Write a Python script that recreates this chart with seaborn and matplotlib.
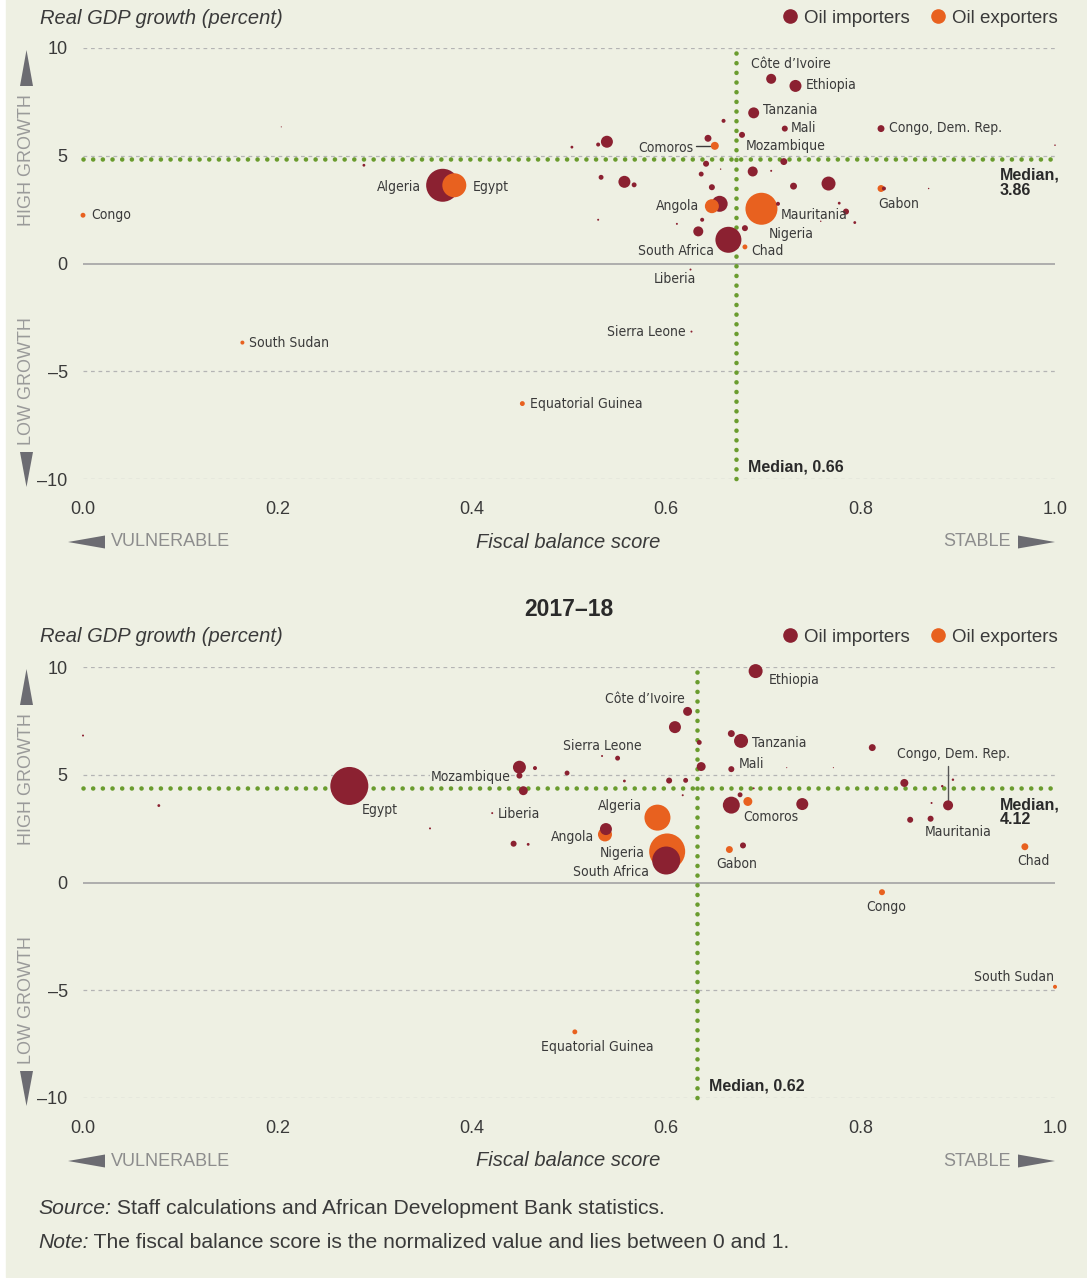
import numpy as np
import pandas as pd
import seaborn as sns
import matplotlib.pyplot as plt
from matplotlib.patches import Polygon, Rectangle
from matplotlib.lines import Line2D

W, H = 1087, 1278
BG = "#eef0e3"
RED = "#8b2131"
ORANGE = "#e8611f"
GREEN = "#6a9c2e"
DARK = "#3a3a3a"
GREY = "#8d8d8d"

# ---- panel 1 data (fiscal balance score, real GDP growth, GDP weight, group) ----
names_a = ["Côte d’Ivoire", "Ethiopia", "Tanzania", "Mali", "Congo, Dem. Rep.", "Mozambique", "Comoros",
           "", "", "", "", "", "", "", "", "", "", "", "", "", "", "", "", "",
           "Gabon", "", "", "Angola", "Nigeria", "Mauritania", "", "", "", "", "", "", "", "",
           "South Africa", "Chad", "Liberia", "Algeria", "Egypt", "Congo", "", "",
           "South Sudan", "Equatorial Guinea", "Sierra Leone", "", "", ""]
score_a = [0.708, 0.733, 0.690, 0.722, 0.821, 0.678, 0.650,
           0.643, 0.659, 0.539, 0.530, 0.503, 0.641, 0.656, 0.721, 0.689, 0.708, 0.636, 0.533, 0.557, 0.567, 0.647, 0.731, 0.767,
           0.821, 0.824, 0.655, 0.647, 0.698, 0.715, 0.778, 0.785, 0.794, 0.637, 0.611, 0.530, 0.633, 0.681,
           0.664, 0.681, 0.625, 0.370, 0.382, 0.000, 0.289, 0.204,
           0.164, 0.452, 0.626, 1.000, 0.870, 0.759]
growth_a = [8.57, 8.24, 6.99, 6.26, 6.26, 5.97, 5.46,
            5.81, 6.62, 5.65, 5.52, 5.40, 4.63, 4.38, 4.73, 4.27, 4.30, 4.15, 4.00, 3.79, 3.65, 3.54, 3.59, 3.71,
            3.48, 3.48, 2.77, 2.66, 2.54, 2.77, 2.80, 2.41, 1.90, 2.03, 1.84, 2.03, 1.49, 1.64,
            1.10, 0.77, -0.28, 3.63, 3.63, 2.24, 4.56, 6.34,
            -3.67, -6.50, -3.16, 5.49, 3.48, 1.96]
gdp_a = [25, 36, 30, 9, 12, 9, 16,
         12, 4, 36, 4, 2, 9, 0.5, 12, 25, 1, 6, 6, 36, 6, 9, 12, 49,
         12, 4, 64, 49, 256, 4, 2, 9, 2, 4, 1, 1, 25, 9,
         169, 6, 1, 272, 144, 6, 2, 0.3,
         4, 6, 1, 0.6, 0.5, 0.5]
group_a = list("IIIIIIE" + "IIIIIIIIIIIIIIIII" + "EIIEEIIIIIIIII" + "IEIIEEII" + "EEIIII")

# ---- panel 2 data: 2017-18 ----
names_b = ["Ethiopia", "Côte d’Ivoire", "", "Tanzania", "", "", "Sierra Leone", "", "Mozambique", "", "", "",
           "", "Mali", "", "", "", "", "", "", "", "", "", "", "Comoros", "", "Algeria", "Liberia", "",
           "", "Angola", "", "", "Nigeria", "South Africa", "Gabon", "", "", "", "", "", "",
           "Congo, Dem. Rep.", "", "Mauritania", "Chad", "Congo", "South Sudan", "Equatorial Guinea",
           "Egypt", "", ""]
score_b = [0.692, 0.622, 0.609, 0.677, 0.667, 0.634, 0.550, 0.534, 0.449, 0.449, 0.465, 0.498,
           0.636, 0.667, 0.724, 0.772, 0.557, 0.603, 0.620, 0.453, 0.617, 0.690, 0.676, 0.667, 0.684, 0.740, 0.591, 0.421, 0.357,
           0.538, 0.537, 0.443, 0.458, 0.601, 0.600, 0.665, 0.679, 0.812, 0.845, 0.895, 0.884, 0.873,
           0.890, 0.851, 0.872, 0.969, 0.822, 1.000, 0.506,
           0.274, 0.000, 0.078]
growth_b = [9.81, 7.94, 7.21, 6.57, 6.91, 6.50, 5.77, 5.87, 5.35, 4.96, 5.31, 5.08,
            5.38, 5.26, 5.33, 5.33, 4.71, 4.73, 4.74, 4.26, 4.05, 4.37, 4.07, 3.59, 3.76, 3.64, 3.01, 3.22, 2.51,
            2.48, 2.23, 1.80, 1.77, 1.44, 1.02, 1.53, 1.72, 6.26, 4.62, 4.77, 4.47, 3.69,
            3.58, 2.91, 2.96, 1.66, -0.45, -4.84, -6.93,
            4.48, 6.82, 3.57]
gdp_b = [49, 20, 36, 49, 12, 6, 6, 1, 42, 9, 4, 6,
         20, 9, 0.3, 0.3, 2, 9, 6, 20, 1, 1, 6, 72, 20, 36, 169, 1, 1,
         36, 49, 9, 2, 324, 196, 12, 9, 12, 16, 1.5, 1.5, 1,
         25, 9, 9, 12, 9, 4, 6,
         361, 1, 2]
group_b = list("IIIIIIIIIIII" + "IIIIIIIIIIIIEIEII" + "IEIIEIEIIIIII" + "IIIEEEE" + "III")

medians = {"a": (0.672, 4.83), "b": (0.632, 4.39)}
median_text = {"a": ("Median, 0.66", "Median,\n3.86"), "b": ("Median, 0.62", "Median,\n4.12")}
median_label_y = {"a": 4.45, "b": 3.95}

labels_a = {
    "Côte d’Ivoire": (0.687, 9.28, "left"), "Ethiopia": (0.744, 8.26, "left"),
    "Tanzania": (0.700, 7.10, "left"), "Mali": (0.728, 6.31, "left"),
    "Congo, Dem. Rep.": (0.829, 6.31, "left"), "Mozambique": (0.682, 5.43, "left"),
    "Comoros": (0.628, 5.38, "right"), "Algeria": (0.348, 3.57, "right"),
    "Egypt": (0.401, 3.57, "left"), "Congo": (0.008, 2.27, "left"),
    "Gabon": (0.818, 2.78, "left"), "Angola": (0.634, 2.69, "right"),
    "Mauritania": (0.718, 2.27, "left"), "Nigeria": (0.706, 1.39, "left"),
    "South Africa": (0.649, 0.60, "right"), "Chad": (0.687, 0.60, "left"),
    "Liberia": (0.609, -0.70, "center"), "Sierra Leone": (0.620, -3.20, "right"),
    "South Sudan": (0.171, -3.71, "left"), "Equatorial Guinea": (0.460, -6.50, "left"),
}
labels_b = {
    "Ethiopia": (0.705, 9.40, "left"), "Côte d’Ivoire": (0.619, 8.51, "right"),
    "Tanzania": (0.688, 6.47, "left"), "Sierra Leone": (0.575, 6.33, "right"),
    "Congo, Dem. Rep.": (0.896, 5.95, "center"), "Mali": (0.675, 5.49, "left"),
    "Mozambique": (0.440, 4.88, "right"), "Egypt": (0.287, 3.35, "left"),
    "Liberia": (0.427, 3.16, "left"), "Algeria": (0.575, 3.53, "right"),
    "Comoros": (0.679, 3.02, "left"), "Mauritania": (0.866, 2.33, "left"),
    "Angola": (0.526, 2.09, "right"), "Nigeria": (0.578, 1.35, "right"),
    "Chad": (0.961, 0.98, "left"), "Gabon": (0.651, 0.88, "left"),
    "South Africa": (0.582, 0.47, "right"), "Congo": (0.806, -1.16, "left"),
    "South Sudan": (0.999, -4.37, "right"), "Equatorial Guinea": (0.471, -7.63, "left"),
}

sns.set_style("white")
plt.rcParams["font.family"] = ["Liberation Sans", "DejaVu Sans"]

fig = plt.figure(figsize=(W / 100, H / 100), dpi=100, facecolor="white")
fig.patches.append(Rectangle((6 / W, 1 / H), 1, 1, transform=fig.transFigure, color=BG, zorder=-10))


def fx(x):
    return x / W


def fy(y):
    return 1 - y / H


def tri(pts):
    fig.patches.append(Polygon([(fx(x), fy(y)) for x, y in pts], closed=True,
                               transform=fig.transFigure, color="#6c6c72", lw=0))


pal = {"I": RED, "E": ORANGE}
panels = [
    ("a", 48, names_a, score_a, growth_a, gdp_a, group_a, labels_a),
    ("b", 667, names_b, score_b, growth_b, gdp_b, group_b, labels_b),
]

for key, top, names, score, growth, gdp, group, labels in panels:
    ax = fig.add_axes([fx(83), fy(top + 431), 972 / W, 431 / H])
    ax.set_facecolor("none")
    df = pd.DataFrame({"name": names, "score": score, "growth": growth, "gdp": gdp, "group": group})
    df = df.sort_values("gdp", ascending=False)

    for yv in (10, 5, -5, -10):
        ax.axhline(yv, color="#b4b4b4", lw=0.9, ls=(0, (3, 3)), zorder=0)
    ax.axhline(0, color="#a9a9a9", lw=1.3, zorder=0)
    mx, my = medians[key]
    ax.plot([0, 1], [my, my], color=GREEN, lw=3.3, ls=(0, (0.01, 2.1)),
            dash_capstyle="round", zorder=1, clip_on=False)
    ax.plot([mx, mx], [9.75, -10], color=GREEN, lw=3.3, ls=(0, (0.01, 2.1)),
            dash_capstyle="round", zorder=1, clip_on=False)

    sns.scatterplot(data=df, x="score", y="growth", hue="group", palette=pal,
                    size="gdp", sizes=(0, 2.0736 * 400), size_norm=(0, 400),
                    linewidth=0, alpha=1, legend=False, ax=ax, zorder=3, clip_on=False)

    for name, (lx, ly, ha) in labels.items():
        t = ax.text(lx, ly, name, ha=ha, va="center", fontsize=10, color=DARK,
                    family="DejaVu Sans", fontstretch="condensed", zorder=4)
        if name == "Mozambique" and key == "b":
            t.set_bbox(dict(facecolor=BG, edgecolor="none", pad=0.5))

    if key == "a":
        ax.plot([0.631, 0.645], [5.46, 5.46], color=DARK, lw=1, zorder=2)
    else:
        ax.plot([0.890, 0.890], [5.40, 3.85], color="#555555", lw=1, zorder=2)

    lab_v, lab_h = median_text[key]
    ax.text(mx + 0.012, -9.45, lab_v, ha="left", va="center", fontsize=11.5,
            fontweight="bold", color="#2a2a2a")
    ax.text(0.943, median_label_y[key], lab_h, ha="left", va="top", fontsize=11.5,
            fontweight="bold", color="#2a2a2a", linespacing=1.0)

    ax.set_xlim(0, 1)
    ax.set_ylim(-10, 10)
    ax.set_xticks([0, 0.2, 0.4, 0.6, 0.8, 1.0])
    ax.set_xticklabels(["0.0", "0.2", "0.4", "0.6", "0.8", "1.0"])
    ax.set_yticks([-10, -5, 0, 5, 10])
    ax.set_yticklabels(["–10", "–5", "0", "5", "10"])
    ax.tick_params(axis="x", length=0, labelsize=13, labelcolor=DARK, pad=16)
    ax.tick_params(axis="y", length=0, labelsize=13, labelcolor=DARK, pad=11)
    ax.set_xlabel("")
    ax.set_ylabel("")
    sns.despine(ax=ax, left=True, bottom=True)

    # header line of panel
    fig.text(fx(40), fy(top - 30), "Real GDP growth (percent)", style="italic",
             fontsize=14.5, color=DARK, va="center", ha="left")
    handles = [Line2D([], [], marker="o", ls="", color=RED, markersize=9.5),
               Line2D([], [], marker="o", ls="", color=ORANGE, markersize=9.5)]
    fig.legend(handles, ["Oil importers", "Oil exporters"], loc="center right",
               bbox_to_anchor=(fx(1058), fy(top - 30)), ncol=2, frameon=False,
               fontsize=13.5, handletextpad=0.25, columnspacing=1.0, handlelength=1.0,
               borderaxespad=0, borderpad=0, labelcolor=DARK)

    # growth arrows
    off = top - 48
    tri([(20, 86 + off), (33, 86 + off), (26.5, 50 + off)])
    tri([(20, 452 + off), (33, 452 + off), (26.5, 487 + off)])
    fig.text(fx(27), fy(160 + off), "HIGH GROWTH", rotation=90, ha="center", va="center",
             fontsize=13, color="#9a9a9a")
    fig.text(fx(27), fy(381 + off), "LOW GROWTH", rotation=90, ha="center", va="center",
             fontsize=13, color="#9a9a9a")

    # fiscal arrows
    ya = 542 + off
    tri([(68, ya), (105, ya - 6.5), (105, ya + 6.5)])
    tri([(1018, ya - 6.5), (1018, ya + 6.5), (1055, ya)])
    fig.text(fx(111), fy(ya), "VULNERABLE", ha="left", va="center", fontsize=13, color=GREY)
    fig.text(fx(1011), fy(ya), "STABLE", ha="right", va="center", fontsize=13, color=GREY)
    fig.text(fx(568), fy(ya), "Fiscal balance score", ha="center", va="center",
             style="italic", fontsize=14.5, color=DARK)

fig.text(fx(569), fy(609), "2017–18", ha="center", va="center", fontsize=16.5,
         fontweight="bold", color="#2a2a2a")

# footer
renderer = fig.canvas.get_renderer()
for y, lead, rest in [(1208, "Source:", " Staff calculations and African Development Bank statistics."),
                      (1242, "Note:", " The fiscal balance score is the normalized value and lies between 0 and 1.")]:
    t = fig.text(fx(38), fy(y), lead, style="italic", fontsize=15.2, color=DARK, va="center")
    bb = t.get_window_extent(renderer)
    fig.text(bb.x1 / W, fy(y), rest, fontsize=15.2, color=DARK, va="center")

fig.savefig("out.png", dpi=100, facecolor=fig.get_facecolor())
